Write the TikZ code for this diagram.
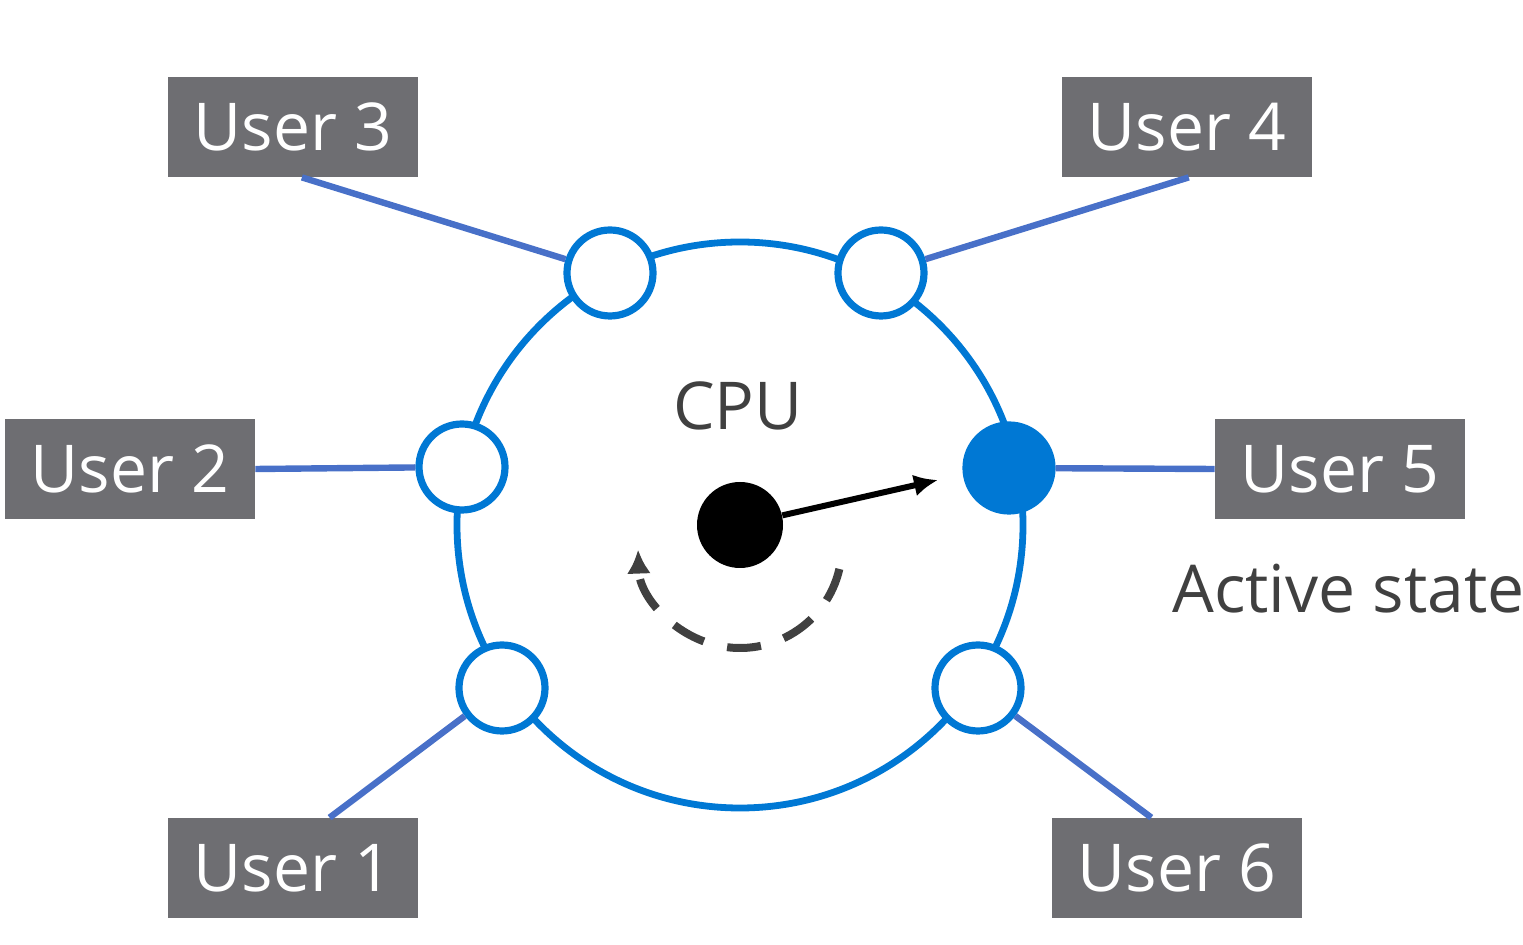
\documentclass[tikz,border=0pt]{standalone}
\usepackage{fontspec}
\setmainfont{Open Sans}
\usetikzlibrary{arrows.meta, calc, positioning}
\definecolor{ringBlue}{RGB}{0,120,212}
\definecolor{linkBlue}{RGB}{72,112,200}
\definecolor{boxGray}{RGB}{110,110,114}
\definecolor{textGray}{RGB}{64,64,64}
\tikzset{
    slot0/.style={circle, draw=ringBlue, line width=3.6pt, fill=white, inner sep=0pt, minimum size=43pt},
    slot1/.style={circle, draw=ringBlue, line width=3.6pt, fill=ringBlue, inner sep=0pt, minimum size=43pt},
    cpuDot/.style={circle, fill=black, inner sep=0pt, minimum size=43pt},
    userBox/.style={rectangle, fill=boxGray, text=white, inner sep=0pt, minimum width=125pt, minimum height=50pt, font=\fontsize{33}{40}\selectfont},
    plainLabel/.style={text=textGray, inner sep=0pt, font=\fontsize{33}{40}\selectfont},
    ringEdge/.style={draw=ringBlue, line width=3.4pt},
    userEdge/.style={draw=linkBlue, line width=3.2pt},
    pointer/.style={-{Latex[length=12pt, width=11pt]}, line width=3pt},
    spinArc/.style={-{Latex[length=12pt, width=12pt]}, line width=4pt, draw=textGray, dash pattern=on 17pt off 12pt},
}
\newcommand{\linkUser}[2]{
    \draw[userEdge] (#1) -- (#2);
}
\begin{document}
\begin{tikzpicture}[x=0.5pt, y=-0.5pt]
        \useasboundingbox (0,0) rectangle (1523,945);

        \coordinate (hub) at (740,525);
        \coordinate (spin) at (740,546);
        \coordinate (tip) at (938,480);
        \draw[ringEdge] (hub) circle[radius=283];

        \node[userBox] (U1) at (293,868) {User 1};
        \node[userBox] (U2) at (130,469) {User 2};
        \node[userBox] (U3) at (293,127) {User 3};
        \node[userBox] (U4) at (1187,127) {User 4};
        \node[userBox] (U5) at (1340,469) {User 5};
        \node[userBox] (U6) at (1177,868) {User 6};

        \node[slot0] (S1) at (502,688) {};
        \node[slot0] (S2) at (462,467) {};
        \node[slot0] (S3) at (610,273) {};
        \node[slot0] (S4) at (881,273) {};
        \node[slot1] (S5) at (1009,468) {};
        \node[slot0] (S6) at (978,688) {};

        \linkUser{U1.54}{S1}
        \linkUser{U2.east}{S2}
        \linkUser{U3.280}{S3}
        \linkUser{U4.272}{S4}
        \linkUser{U5.west}{S5}
        \linkUser{U6.117}{S6}

        \node[cpuDot] (dot) at (hub) {};
        \draw[pointer] (dot) -- (tip);
        \draw[spinArc] ($(spin)+(13:102)$) arc[start angle=13, end angle=178, radius=102];

        \node[plainLabel, anchor=base] (cpuLabel) at (738,430) {CPU};
        \node[plainLabel, anchor=base west] (activeLabel) at (1172,613) {Active state};

    \end{tikzpicture}
\end{document}
